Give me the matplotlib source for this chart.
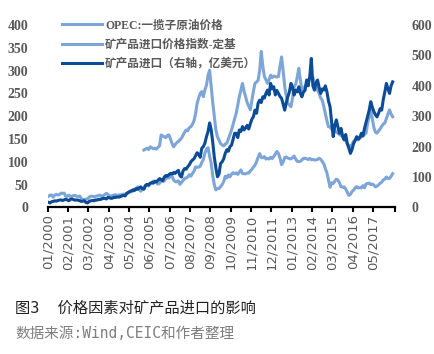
import numpy as np
import matplotlib
matplotlib.use('Agg')
import matplotlib.pyplot as plt
from matplotlib.font_manager import FontProperties
from matplotlib.transforms import Bbox, TransformedBbox

# monthly data, 2000-01 .. 2018-05
start_year = 2000
n_cats = 222   # categories on the axis (2000-01 .. 2018-06)

# OPEC basket price (left axis)
opec = [
    24.7, 27.1, 27.5, 22.6, 27.0, 28.8, 27.5, 28.2, 31.5, 31.0, 31.4, 24.6,
    24.3, 27.0, 24.4, 24.6, 26.2, 26.3, 24.4, 24.5, 24.9, 19.6, 17.6, 17.5,
    18.3, 19.0, 22.6, 24.4, 24.9, 23.5, 24.5, 25.2, 26.7, 26.8, 23.5, 26.3,
    28.3, 31.1, 28.8, 24.9, 24.9, 26.4, 27.4, 28.0, 25.6, 27.5, 27.9, 28.4,
    29.3, 28.7, 31.1, 31.6, 35.9, 34.5, 36.0, 40.3, 40.4, 45.4, 38.8, 35.7,
    39.9, 41.7, 49.1, 49.6, 47.1, 52.0, 53.1, 57.8, 57.9, 54.6, 51.3, 53.1,
    58.4, 57.3, 57.9, 64.4, 65.1, 64.6, 68.9, 68.8, 60.1, 56.8, 56.3, 58.5,
    50.7, 55.1, 58.8, 63.9, 64.7, 66.8, 71.9, 68.7, 74.3, 79.4, 88.8, 88.4,
    88.4, 90.6, 99.0, 105.2, 119.4, 128.3, 131.2, 112.4, 96.9, 69.2, 49.8, 38.6,
    41.5, 41.4, 45.8, 50.2, 56.9, 68.4, 64.6, 71.4, 67.2, 72.7, 76.3, 74.0,
    76.0, 72.5, 77.2, 82.3, 74.5, 74.2, 73.7, 75.4, 75.5, 79.9, 83.7, 88.6,
    92.8, 100.3, 109.8, 118.1, 109.9, 109.0, 111.6, 106.3, 107.6, 106.3, 110.1, 107.3,
    111.8, 117.5, 122.9, 118.2, 108.1, 93.9, 99.6, 109.5, 110.7, 108.4, 106.9, 106.6,
    109.3, 112.8, 106.4, 101.1, 100.7, 101.0, 104.5, 107.5, 108.0, 106.7, 105.0, 107.7,
    104.7, 105.4, 104.2, 104.3, 105.4, 107.9, 105.6, 100.8, 95.9, 85.1, 75.6, 59.5,
    44.4, 54.1, 52.5, 57.3, 62.2, 60.2, 54.2, 45.5, 44.8, 45.0, 40.5, 33.6,
    26.5, 28.7, 34.7, 37.9, 43.2, 45.8, 42.7, 43.1, 42.9, 47.9, 43.2, 51.7,
    52.4, 53.4, 50.3, 51.4, 49.2, 45.2, 46.9, 49.6, 53.4, 55.5, 60.7, 62.1,
    66.9, 63.5, 63.8, 68.4, 74.1,
]

# mineral import price index (left axis), starts 2005-02
index_start = 61
price_index = [
    126, 128, 130, 127, 133, 131, 129, 130, 128, 132, 135,
    159, 157, 155, 153, 158, 159, 150, 140, 133, 138, 142, 145,
    148, 152, 158, 165, 170, 168, 175, 177, 182, 190, 205, 228,
    240, 250, 254, 243, 258, 268, 290, 301, 265, 230, 199, 170,
    155, 148, 140, 137, 135, 139, 141, 150, 160, 170, 182, 195,
    206, 225, 243, 258, 272, 255, 243, 230, 222, 214, 235, 255,
    272, 275, 279, 300, 342, 310, 287, 280, 272, 280, 290, 285,
    288, 287, 286, 287, 310, 330, 300, 265, 245, 228, 225, 221,
    240, 265, 270, 285, 305, 280, 257, 262, 265, 272, 280, 282,
    287, 285, 275, 265, 257, 250, 240, 235, 221, 205, 190, 177,
    177, 172, 168, 170, 165, 163, 160, 158, 155, 150, 148, 140,
    136, 133, 138, 145, 148, 150, 148, 152, 155, 158, 160, 163,
    185, 200, 214, 195, 175, 165, 163, 168, 172, 178, 183, 185,
    195, 205, 214, 205, 199,
]

# mineral product imports, 100m USD (right axis)
imports = [
    17, 15, 19, 20, 22, 21, 23, 24, 25, 23, 25, 27,
    25, 22, 27, 28, 26, 24, 25, 24, 22, 20, 21, 22,
    16, 15, 20, 22, 23, 22, 25, 24, 27, 26, 28, 30,
    30, 28, 33, 32, 30, 31, 34, 33, 35, 34, 36, 38,
    40, 38, 46, 50, 52, 55, 58, 56, 62, 60, 64, 68,
    62, 60, 72, 76, 74, 80, 82, 80, 86, 84, 90, 95,
    92, 88, 100, 105, 103, 108, 112, 110, 115, 112, 118, 122,
    105, 100, 120, 128, 126, 134, 140, 150, 156, 160, 170, 180,
    175, 165, 195, 200, 212, 233, 250, 278, 255, 215, 165, 130,
    101, 110, 145, 150, 160, 178, 190, 185, 200, 205, 225, 244,
    244, 230, 255, 250, 266, 255, 262, 270, 258, 275, 290, 299,
    320, 310, 343, 353, 345, 364, 360, 375, 386, 370, 408, 390,
    397, 370, 385, 375, 365, 359, 340, 320, 345, 364, 380, 408,
    395, 370, 386, 380, 397, 375, 364, 380, 385, 419, 400, 430,
    490, 400, 386, 410, 419, 395, 375, 390, 386, 400, 380, 350,
    331, 280, 233, 270, 288, 265, 244, 260, 235, 222, 240, 210,
    195, 178, 190, 210, 220, 233, 225, 230, 244, 235, 260, 280,
    300, 320, 348, 330, 315, 305, 298, 310, 325, 320, 355, 380,
    408, 390, 375, 400, 413,
]

labels = ['OPEC:一揽子原油价格', '矿产品进口价格指数-定基', '矿产品进口（右轴，亿美元）']
left_ticks = [0, 50, 100, 150, 200, 250, 300, 350, 400]
right_ticks = [0, 100, 200, 300, 400, 500, 600]
light = '#7DA5D8'
dark = '#0C4B96'
grey = '#595959'

W, H = 434, 354
fig = plt.figure(figsize=(W / 100, H / 100), dpi=100)
ax = fig.add_axes([47.7 / W, 1 - 207.5 / H, (395 - 47.7) / W, (207.5 - 25) / H])
ax2 = ax.twinx()

l1, = ax.plot(np.arange(len(opec)), opec, color=light, lw=2.2)
l2, = ax.plot(np.arange(index_start, index_start + len(price_index)), price_index,
              color=light, lw=2.2)
l3, = ax2.plot(np.arange(len(imports)), imports, color=dark, lw=2.2)

ax.set_xlim(-0.5, n_cats - 0.5)
ax.set_ylim(0, 400)
ax2.set_ylim(0, 600)

num_font = FontProperties(family='Liberation Serif', weight='bold', size=10)
ax.set_yticks(left_ticks)
ax.set_yticklabels([str(v) for v in left_ticks], fontproperties=num_font, color=grey)
ax2.set_yticks(right_ticks)
ax2.set_yticklabels([str(v) for v in right_ticks], fontproperties=num_font, color=grey)

tick_m = list(range(0, n_cats - 13, 13))
tick_pos = [m - 0.5 for m in tick_m] + [n_cats - 0.5]
tick_lab = ['%02d/%d' % (m % 12 + 1, start_year + m // 12) for m in tick_m] + ['']
ax.set_xticks(tick_pos)
ax.set_xticklabels(tick_lab, rotation=90, fontsize=9.5, color=grey, va='top')

for a in (ax, ax2):
    for s in ('left', 'right', 'top'):
        a.spines[s].set_visible(False)
ax2.spines['bottom'].set_visible(False)
ax.spines['bottom'].set_linewidth(1.6)
ax.spines['bottom'].set_color('black')

ax.tick_params(axis='x', direction='out', length=3.5, width=1.5, color='black', pad=1.5)
ax.tick_params(axis='y', length=0, pad=14)
ax2.tick_params(axis='y', length=0, pad=12)

# labels are cut off at the bottom in the original
clip = TransformedBbox(Bbox([[0, 84 / H], [1, 1]]), fig.transFigure)
for t in ax.xaxis.get_major_ticks():
    t.label1.set_clip_on(True)
    t.label1.set_clip_box(clip)

leg_font = FontProperties(family=['Liberation Serif', 'Noto Sans CJK SC'], weight='bold', size=8.4)
ax2.legend([l1, l2, l3], labels, loc='upper left', bbox_to_anchor=(62 / W, 1 - 19.5 / H),
           bbox_transform=fig.transFigure, frameon=False, prop=leg_font,
           handlelength=3.4, handletextpad=0.3, labelspacing=0.62,
           borderaxespad=0, borderpad=0, labelcolor=grey)

fig.text(15 / W, 1 - 308 / H, '图3  价格因素对矿产品进口的影响', va='center', fontsize=11,
         color='#222222', family=['DejaVu Sans Mono', 'Noto Sans CJK SC'])
fig.text(15 / W, 1 - 333 / H, '数据来源:Wind,CEIC和作者整理', va='center', fontsize=10.5,
         color='#7F7F7F', family=['DejaVu Sans Mono', 'Noto Sans CJK SC'])

fig.savefig('out.png', dpi=100)
